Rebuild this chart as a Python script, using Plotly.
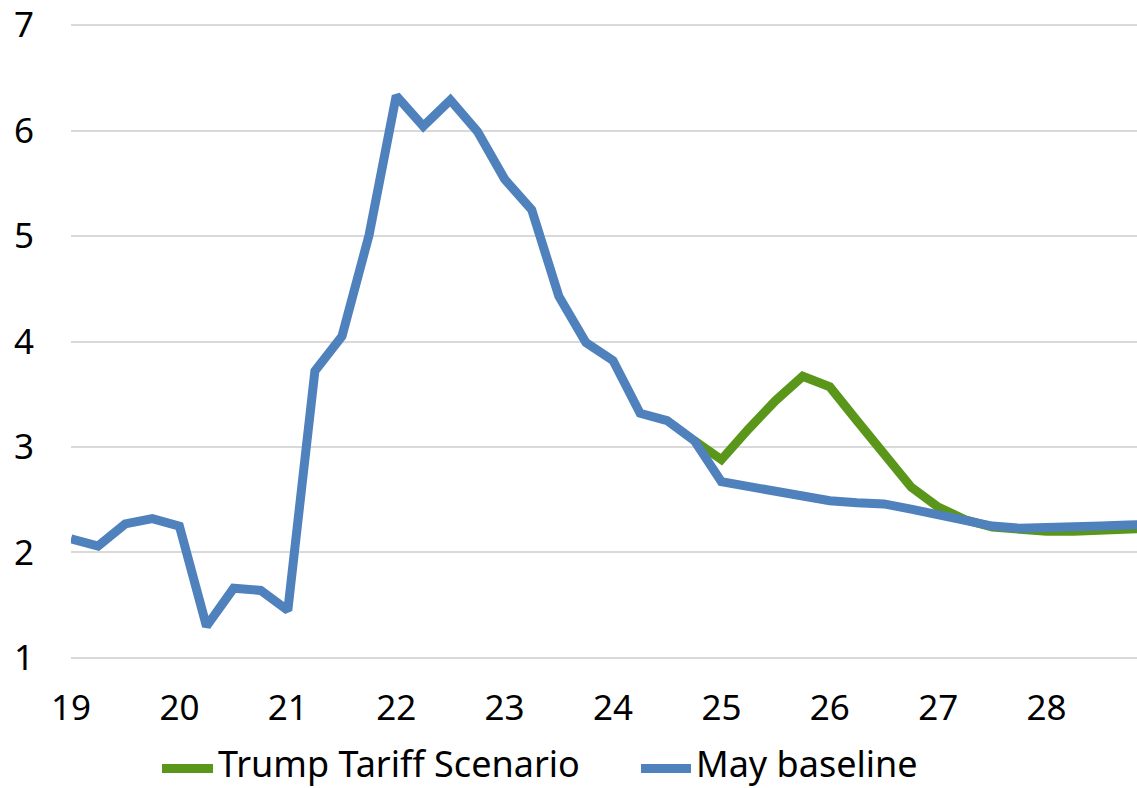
import plotly.graph_objects as go

# Quarterly periods, expressed as year (2-digit) + quarter fraction
periods = [19 + i * 0.25 for i in range(41)]  # 19.00 .. 29.00

may_baseline = [
    2.13, 2.06, 2.27, 2.32,   # 2019
    2.25, 1.30, 1.66, 1.64,   # 2020
    1.45, 3.72, 4.05, 5.01,   # 2021
    6.33, 6.04, 6.29, 5.99,   # 2022
    5.54, 5.25, 4.43, 3.99,   # 2023
    3.82, 3.32, 3.25, 3.06,   # 2024
    2.67, 2.62, 2.57, 2.53,   # 2025
    2.49, 2.47, 2.46, 2.41,   # 2026
    2.35, 2.29, 2.25, 2.23,   # 2027
    2.23, 2.24, 2.25, 2.26,   # 2028
    2.27,                     # 2029
]

# Scenario path diverges from the baseline after 2024 Q4
tariff_start = 23
trump_tariff = [
    3.06,                     # 2024 Q4
    2.88, 3.17, 3.44, 3.67,   # 2025
    3.57, 3.25, 2.93, 2.62,   # 2026
    2.43, 2.31, 2.24, 2.21,   # 2027
    2.20, 2.20, 2.21, 2.22,   # 2028
    2.23,                     # 2029
]

tick_vals = list(range(19, 29))
tick_text = [str(v) for v in tick_vals]
y_ticks = [1, 2, 3, 4, 5, 6, 7]

BLUE = "#4F81BD"
GREEN = "#5A961A"
FONT = "Noto Sans"

fig = go.Figure()
fig.add_trace(go.Scatter(
    x=periods[tariff_start:], y=trump_tariff, mode="lines",
    name="Trump Tariff Scenario",
    line=dict(color=GREEN, width=9),
))
fig.add_trace(go.Scatter(
    x=periods, y=may_baseline, mode="lines",
    name="May baseline",
    line=dict(color=BLUE, width=9),
))

W, H = 1137, 788
L, T, B = 71, 20, 128
pw, ph = W - L, H - T - B
Y0, Y1 = 0.98, 7.02  # small pad so the 1 and 7 gridlines stay inside the frame


def px_x(p):
    return (p - L) / pw


def px_y(p):
    return (H - B - p) / ph


# Legend drawn below the axis: line swatch followed by its label
legend_items = [
    (158, 217, GREEN, "Trump Tariff Scenario"),
    (637, 695, BLUE, "May baseline"),
]
shapes, annotations = [], []
for x0, x1, col, label in legend_items:
    shapes.append(dict(
        type="line", xref="paper", yref="paper",
        x0=px_x(x0 + 4), x1=px_x(x1 - 4), y0=px_y(769), y1=px_y(769),
        line=dict(color=col, width=9), layer="above",
    ))
    annotations.append(dict(
        xref="paper", yref="paper", x=px_x(x1 - 1), y=px_y(764),
        xanchor="left", yanchor="middle", text=label, showarrow=False,
        font=dict(family=FONT, size=36, color="#000000"),
    ))

fig.update_layout(
    width=W, height=H,
    margin=dict(l=L, r=0, t=T, b=B),
    paper_bgcolor="white", plot_bgcolor="white",
    showlegend=False,
    shapes=shapes, annotations=annotations,
    font=dict(family=FONT, size=35, color="#000000"),
)
fig.update_xaxes(
    range=[19, 19 + pw / 108.4],
    tickvals=tick_vals, ticktext=tick_text,
    showgrid=False, zeroline=False, showline=False, ticks="",
    ticklabelstandoff=24,
    tickfont=dict(family=FONT, size=35, color="#000000"),
)
fig.update_yaxes(
    range=[Y0, Y1],
    tickvals=y_ticks,
    showgrid=True, gridcolor="#D9D9D9", gridwidth=2,
    zeroline=False, showline=False, ticks="",
    ticklabelstandoff=36, ticklabeloverflow="allow",
    tickfont=dict(family=FONT, size=35, color="#000000"),
)

fig.write_html("out.html")
